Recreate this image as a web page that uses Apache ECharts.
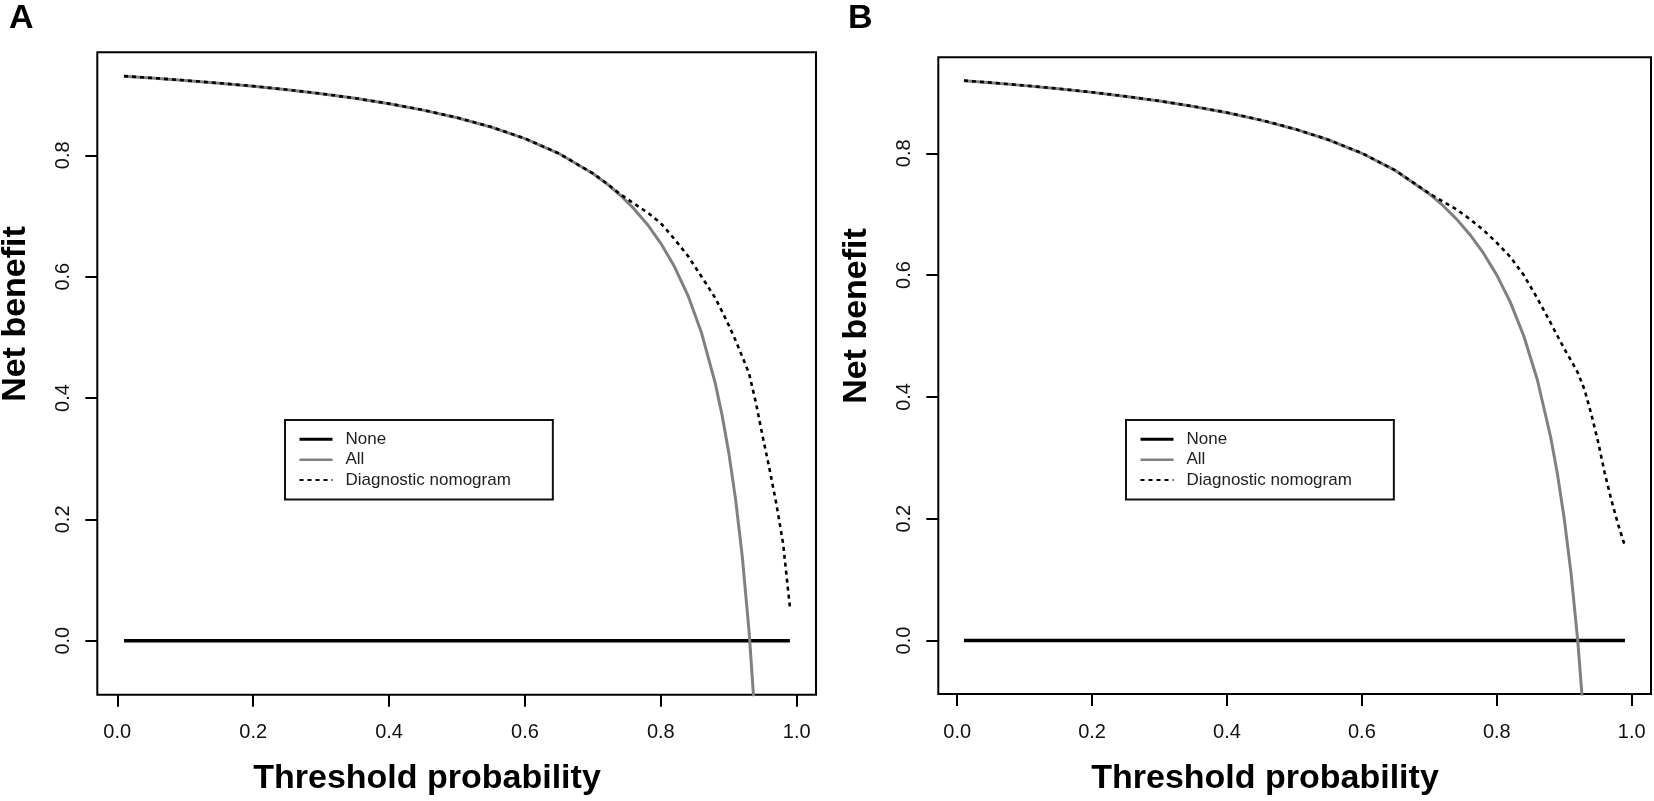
<!DOCTYPE html>
<html>
<head>
<meta charset="utf-8">
<script src="https://cdn.jsdelivr.net/npm/echarts@6/dist/echarts.min.js"></script>
<style>
  html, body { margin: 0; padding: 0; background: #fff; }
  #chart { width: 1654px; height: 801px; }
</style>
</head>
<body>
<div id="chart"></div>
<script>
// ---- data ----
const thresholds = [0.01,0.05,0.10,0.15,0.20,0.25,0.30,0.35,0.40,0.45,0.50,0.55,0.60,0.65,0.70,
  0.72,0.74,0.76,0.78,0.80,0.82,0.84,0.86,0.88,0.89,0.90,0.91,0.92,0.93,0.94,0.95,0.96,0.97,0.98,0.99];

const noneValues = [0,0,0,0,0,0,0,0,0,0,0,0,0,0,0,0,0,0,0,0,0,0,0,0,0,0,0,0,0,0,0,0,0,0,0];

const allA = [0.9303,0.9274,0.9233,0.9188,0.9138,0.9080,0.9014,0.8939,0.8850,0.8745,0.8620,0.8467,0.8275,0.8029,0.7700,
  0.7536,0.7346,0.7125,0.6864,0.6550,0.6167,0.5688,0.5071,0.4250,0.3727,0.3100,0.2333,0.1375,0.0143,-0.1500,
  null,null,null,null,null];

const nomogramA = [0.9305,0.9276,0.9235,0.9190,0.9140,0.9082,0.9016,0.8941,0.8852,0.8747,0.8622,0.8469,0.8277,0.8031,0.7702,
  0.7540,0.7360,0.7210,0.7060,0.6880,0.6620,0.6340,0.6000,0.5650,0.5430,0.5200,0.4950,0.4680,0.4400,0.3920,
  0.3360,0.2830,0.2260,0.1600,0.0550];

const allB = [0.9192,0.9158,0.9111,0.9059,0.9000,0.8933,0.8857,0.8769,0.8667,0.8545,0.8400,0.8222,0.8000,0.7714,0.7333,
  0.7143,0.6923,0.6667,0.6364,0.6000,0.5556,0.5000,0.4286,0.3333,0.2727,0.2000,0.1111,0.0000,-0.1429,
  null,null,null,null,null,null];

const nomogramB = [0.9194,0.9160,0.9113,0.9061,0.9002,0.8935,0.8859,0.8771,0.8669,0.8547,0.8402,0.8224,0.8002,0.7716,0.7340,
  0.7210,0.7080,0.6920,0.6740,0.6530,0.6300,0.6000,0.5620,0.5210,0.5000,0.4790,0.4600,0.4400,0.4120,0.3720,
  0.3270,0.2750,0.2300,0.1900,0.1550];

const xTicks = [0, 0.2, 0.4, 0.6, 0.8, 1.0];
const yTicks = [0, 0.2, 0.4, 0.6, 0.8];
const seriesNames = ['None', 'All', 'Diagnostic nomogram'];
const panelLetters = ['A', 'B'];
const xTitle = 'Threshold probability';
const yTitle = 'Net benefit';

// ---- chart ----
const FONT = '"Liberation Sans", Arial, sans-serif';
const pairs = (vals) => thresholds.map((t, i) => [t, vals[i]]);

const panels = [
  { grid: { left: 97.3, top: 52.3, width: 718.7, height: 642.4 }, x: [-0.0294, 1.0284], y: [-0.0890, 0.9698],
    all: allA, nomo: nomogramA, legendLeft: 285, letterX: 9, yTitleX: 16, yTitleY: 314, xTitleX: 427 },
  { grid: { left: 938.3, top: 57.3, width: 712.7, height: 636.7 }, x: [-0.0280, 1.0286], y: [-0.0878, 0.9576],
    all: allB, nomo: nomogramB, legendLeft: 1126, letterX: 848, yTitleX: 857, yTitleY: 316, xTitleX: 1265 }
];

const grids = [], xAxes = [], yAxes = [], series = [], legends = [], graphics = [];
panels.forEach((p, i) => {
  grids.push(Object.assign({ show: true, borderColor: '#000', borderWidth: 2, backgroundColor: 'transparent',
    containLabel: false, outerBoundsMode: 'none' }, p.grid));
  xAxes.push({
    type: 'value', gridIndex: i, min: p.x[0], max: p.x[1], position: 'bottom',
    axisLine: { show: false, onZero: false }, splitLine: { show: false },
    axisTick: { show: true, inside: false, length: 12, customValues: xTicks, lineStyle: { color: '#000', width: 2 } },
    axisLabel: { show: true, customValues: xTicks, margin: 28, fontSize: 20, color: '#111', fontFamily: FONT,
      formatter: (v) => v.toFixed(1) }
  });
  yAxes.push({
    type: 'value', gridIndex: i, min: p.y[0], max: p.y[1], position: 'left',
    axisLine: { show: false, onZero: false }, splitLine: { show: false },
    axisTick: { show: true, inside: false, length: 12, customValues: yTicks, lineStyle: { color: '#000', width: 2 } },
    axisLabel: { show: true, customValues: yTicks, margin: 24, rotate: 90, fontSize: 20, color: '#111', fontFamily: FONT,
      formatter: (v) => v.toFixed(1) }
  });
  series.push({
    name: seriesNames[0], type: 'line', xAxisIndex: i, yAxisIndex: i, data: pairs(noneValues),
    symbol: 'none', showSymbol: false, clip: true, animation: false,
    lineStyle: { color: '#000', width: 3.5 }, itemStyle: { color: '#000' }
  });
  series.push({
    name: seriesNames[1], type: 'line', xAxisIndex: i, yAxisIndex: i, data: pairs(p.all),
    symbol: 'none', showSymbol: false, clip: true, animation: false, smooth: false, connectNulls: false,
    lineStyle: { color: '#808080', width: 3 }, itemStyle: { color: '#808080' }
  });
  series.push({
    name: seriesNames[2], type: 'line', xAxisIndex: i, yAxisIndex: i, data: pairs(p.nomo),
    symbol: 'none', showSymbol: false, clip: true, animation: false,
    lineStyle: { color: '#000', width: 2.6, type: [4, 4] }, itemStyle: { color: '#000' }
  });
  legends.push({
    show: true, orient: 'vertical', left: p.legendLeft, top: 420,
    padding: [10.8, 42, 10.8, 13], itemWidth: 33, itemHeight: 14, itemGap: 3.4,
    borderColor: '#111', borderWidth: 2, backgroundColor: '#fff', selectedMode: false,
    itemStyle: { opacity: 0 },
    textStyle: { fontSize: 17, lineHeight: 17, color: '#222', fontFamily: FONT, padding: [0, 0, 0, 8] },
    data: [
      { name: seriesNames[0], lineStyle: { color: '#000', width: 3 }, itemStyle: { opacity: 0 } },
      { name: seriesNames[1], lineStyle: { color: '#808080', width: 2.5 }, itemStyle: { opacity: 0 } },
      { name: seriesNames[2], lineStyle: { color: '#000', width: 2, type: [4, 4] }, itemStyle: { opacity: 0 } }
    ]
  });
  graphics.push({
    type: 'text', x: p.letterX, y: 19, style: { text: panelLetters[i], fontSize: 34, fontWeight: 'bold', fontFamily: FONT,
      fill: '#000', align: 'left', verticalAlign: 'middle' }
  });
  graphics.push({
    type: 'text', x: p.yTitleX, y: p.yTitleY, rotation: Math.PI / 2,
    style: { text: yTitle, fontSize: 34, fontWeight: 'bold', fontFamily: FONT, fill: '#000',
      align: 'center', verticalAlign: 'middle' }
  });
  graphics.push({
    type: 'text', x: p.xTitleX, y: 779,
    style: { text: xTitle, fontSize: 34, fontWeight: 'bold', fontFamily: FONT, fill: '#000',
      align: 'center', verticalAlign: 'middle' }
  });
});

const chart = echarts.init(document.getElementById('chart'), null, { renderer: 'canvas' });
chart.setOption({
  backgroundColor: '#fff',
  animation: false,
  grid: grids, xAxis: xAxes, yAxis: yAxes, series: series, legend: legends,
  graphic: { elements: graphics }
});
</script>
</body>
</html>
